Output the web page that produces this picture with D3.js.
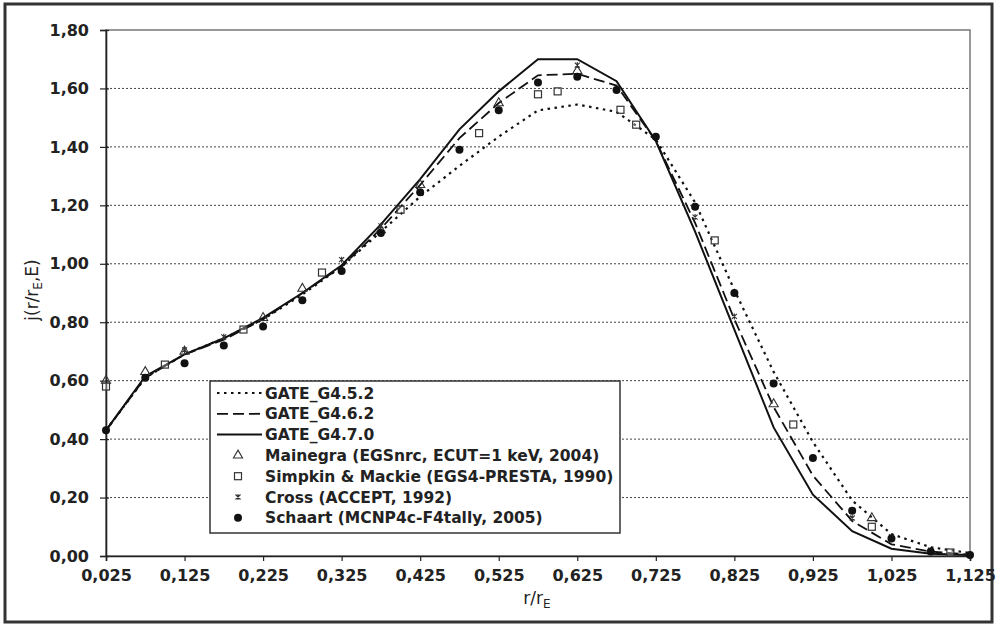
<!DOCTYPE html>
<html><head><meta charset="utf-8">
<script src="https://cdn.jsdelivr.net/npm/d3@7"></script>
<style>
html,body{margin:0;padding:0;background:#fff;}
svg{display:block;}
</style></head>
<body>
<svg id="chart" width="997" height="628"></svg>
<script>
// ---------- data ----------
const rGrid = [0.025,0.075,0.125,0.175,0.225,0.275,0.325,0.375,0.425,0.475,0.525,0.575,0.625,0.675,0.725,0.775,0.825,0.875,0.925,0.975,1.025,1.075,1.125];
const gate452 = [0.43,0.61,0.69,0.745,0.81,0.895,0.99,1.11,1.23,1.335,1.435,1.525,1.545,1.52,1.425,1.21,0.91,0.63,0.39,0.19,0.075,0.03,0.01];
const gate462 = [0.43,0.61,0.69,0.74,0.81,0.90,0.99,1.12,1.27,1.43,1.55,1.645,1.65,1.61,1.42,1.14,0.81,0.51,0.275,0.12,0.04,0.015,0.005];
const gate470 = [0.43,0.615,0.69,0.745,0.815,0.90,0.995,1.135,1.29,1.46,1.59,1.70,1.70,1.625,1.42,1.11,0.775,0.44,0.21,0.085,0.025,0.008,0.003];

const mainegraR = [0.025,0.075,0.125,0.225,0.275,0.375,0.425,0.525,0.625,0.875,1.0];
const mainegraJ = [0.60,0.63,0.70,0.815,0.915,1.115,1.27,1.55,1.66,0.52,0.13];
const simpkinR = [0.025,0.1,0.2,0.3,0.4,0.5,0.575,0.6,0.68,0.7,0.8,0.9,1.0,1.1];
const simpkinJ = [0.58,0.655,0.775,0.97,1.185,1.447,1.58,1.59,1.527,1.476,1.08,0.45,0.10,0.012];
const crossR = [0.125,0.175,0.325,0.375,0.625,0.775,0.825,0.975,1.025,1.075];
const crossJ = [0.705,0.75,1.014,1.13,1.68,1.16,0.82,0.13,0.066,0.02];
const schaartR = rGrid;
const schaartJ = [0.43,0.61,0.66,0.72,0.785,0.875,0.975,1.105,1.245,1.39,1.525,1.62,1.64,1.595,1.435,1.195,0.90,0.59,0.335,0.155,0.06,0.015,0.003];

const xTickValues = [0.025,0.125,0.225,0.325,0.425,0.525,0.625,0.725,0.825,0.925,1.025,1.125];
const yTickValues = [0,0.2,0.4,0.6,0.8,1.0,1.2,1.4,1.6,1.8];
const lineNames = ["GATE_G4.5.2","GATE_G4.6.2","GATE_G4.7.0"];
const markerNames = ["Mainegra (EGSnrc, ECUT=1 keV, 2004)","Simpkin & Mackie (EGS4-PRESTA, 1990)","Cross (ACCEPT, 1992)","Schaart (MCNP4c-F4tally, 2005)"];

// ---------- drawing ----------
const svg = d3.select("#chart");
const W = 997, H = 628;
const m = {left:106, right:970, top:30, bottom:556};
const x = d3.scaleLinear().domain([0.025,1.125]).range([m.left,m.right]);
const y = d3.scaleLinear().domain([0,1.8]).range([m.bottom,m.top]);
const FONT = "'DejaVu Sans', sans-serif";
const ink = "#222";

svg.append("rect").attr("x",0).attr("y",0).attr("width",W).attr("height",H).attr("fill","#fff");
// outer frame
svg.append("rect").attr("x",5).attr("y",4).attr("width",987).attr("height",618)
  .attr("fill","none").attr("stroke","#333").attr("stroke-width",3);

// gridlines
svg.append("g").selectAll("line").data(yTickValues.filter(v=>v>0 && v<1.8)).join("line")
  .attr("x1",m.left).attr("x2",m.right).attr("y1",d=>y(d)).attr("y2",d=>y(d))
  .attr("stroke","#444").attr("stroke-width",1).attr("stroke-dasharray","2,2");

// plot border (top/right)
svg.append("rect").attr("x",m.left).attr("y",m.top).attr("width",m.right-m.left).attr("height",m.bottom-m.top)
  .attr("fill","none").attr("stroke","#777").attr("stroke-width",1.5);

const fmt = (p)=> (d)=> d3.format("."+p+"f")(d).replace(".",",");

const xAxis = d3.axisBottom(x).tickValues(xTickValues).tickFormat(fmt(3)).tickSize(5).tickPadding(9);
const gx = svg.append("g").attr("transform",`translate(0,${m.bottom})`).call(xAxis);
const yAxis = d3.axisLeft(y).tickValues(yTickValues).tickFormat(fmt(2)).tickSize(6).tickPadding(11);
const gy = svg.append("g").attr("transform",`translate(${m.left},0)`).call(yAxis);
[gx,gy].forEach(g=>{
  g.select(".domain").attr("stroke",ink).attr("stroke-width",1.6);
  g.selectAll(".tick line").attr("stroke",ink).attr("stroke-width",1.2);
  g.selectAll(".tick text").attr("fill","#222").style("font-family",FONT).style("font-weight","bold").style("font-size","16px");
});
gy.selectAll(".tick line").attr("x2",-6).attr("x1",3);

// axis titles
const yt = svg.append("text").attr("transform","translate(38,290) rotate(-90)")
  .attr("text-anchor","middle").style("font-family",FONT).style("font-size","17px").attr("fill","#222");
yt.append("tspan").text("j(r/r");
yt.append("tspan").attr("dy",4).style("font-size","12px").text("E");
yt.append("tspan").attr("dy",-4).text(",E)");
const xt = svg.append("text").attr("x",537).attr("y",604)
  .attr("text-anchor","middle").style("font-family",FONT).style("font-size","17px").attr("fill","#222");
xt.append("tspan").text("r/r");
xt.append("tspan").attr("dy",4).style("font-size","12px").text("E");

// lines
const lineGen = d3.line().x((d,i)=>x(rGrid[i])).y(d=>y(d));
const styles = [
  {dash:"2.5,4.5", w:2.2},
  {dash:"11,5", w:1.8},
  {dash:null, w:2}
];
[gate452,gate462,gate470].forEach((s,k)=>{
  svg.append("path").datum(s).attr("d",lineGen).attr("fill","none")
    .attr("stroke","#111").attr("stroke-width",styles[k].w)
    .attr("stroke-dasharray",styles[k].dash);
});

// markers
function drawMarker(g, type, cx, cy){
  if(type==="tri"){
    g.append("path").attr("d",d3.symbol(d3.symbolTriangle,36)())
      .attr("transform",`translate(${cx},${cy})`).attr("fill","none").attr("stroke","#333").attr("stroke-width",1.1);
  } else if(type==="sq"){
    g.append("rect").attr("x",cx-3.5).attr("y",cy-3.5).attr("width",7).attr("height",7)
      .attr("fill","#fff").attr("fill-opacity",0.3).attr("stroke","#333").attr("stroke-width",1.2);
  } else if(type==="cross"){
    g.append("path").attr("d",`M${cx-2.5},${cy-2.5}L${cx+2.5},${cy+2.5}M${cx+2.5},${cy-2.5}L${cx-2.5},${cy+2.5}M${cx},${cy-3}L${cx},${cy+3}`)
      .attr("stroke","#333").attr("stroke-width",1.1);
  } else {
    g.append("circle").attr("cx",cx).attr("cy",cy).attr("r",4).attr("fill","#111");
  }
}
const mg = svg.append("g");
const markerSets = [
  ["tri",mainegraR,mainegraJ],
  ["sq",simpkinR,simpkinJ],
  ["cross",crossR,crossJ],
  ["dot",schaartR,schaartJ]
];
markerSets.forEach(([t,rs,js])=>{
  rs.forEach((r,i)=>drawMarker(mg,t,x(r),y(js[i])));
});

// legend
const lg = svg.append("g");
lg.append("rect").attr("x",210).attr("y",381).attr("width",410).attr("height",152)
  .attr("fill","#fff").attr("stroke","#333").attr("stroke-width",1.5);
const rowY = i => 393 + i*20.8;
lineNames.forEach((n,k)=>{
  lg.append("line").attr("x1",217).attr("x2",262).attr("y1",rowY(k)).attr("y2",rowY(k))
    .attr("stroke","#111").attr("stroke-width",styles[k].w).attr("stroke-dasharray",styles[k].dash);
});
markerNames.forEach((n,k)=>{
  drawMarker(lg,markerSets[k][0],238,rowY(k+3));
});
lineNames.concat(markerNames).forEach((n,k)=>{
  lg.append("text").attr("x",265).attr("y",rowY(k)).attr("dy","0.36em")
    .style("font-family",FONT).style("font-weight","bold").style("font-size","15.5px").attr("fill","#222").text(n);
});
</script>
</body></html>
